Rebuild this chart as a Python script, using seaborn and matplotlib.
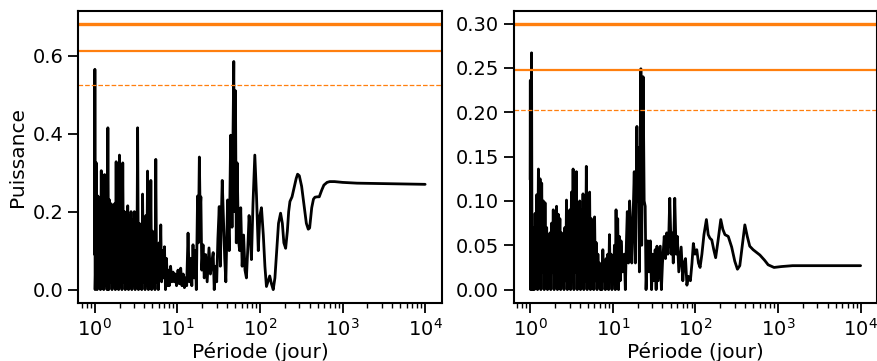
import matplotlib
matplotlib.use("Agg")
import matplotlib.pyplot as plt
from matplotlib.ticker import MultipleLocator
import seaborn as sns

# Periodogramme 1 (gauche)
periode_a = [1.000, 1.003, 1.006, 1.013, 1.023, 1.047, 1.072, 1.096, 1.122, 1.148,
             1.175, 1.202, 1.230, 1.259, 1.288, 1.318, 1.349, 1.380, 1.413, 1.445,
             1.479, 1.514, 1.549, 1.585, 1.622, 1.660, 1.698, 1.738, 1.778, 1.820,
             1.862, 1.905, 1.950, 1.995, 2.042, 2.089, 2.138, 2.188, 2.239, 2.291,
             2.344, 2.399, 2.455, 2.512, 2.570, 2.630, 2.692, 2.754, 2.818, 2.884,
             2.951, 3.020, 3.090, 3.162, 3.236, 3.311, 3.388, 3.467, 3.548, 3.631,
             3.715, 3.802, 3.890, 3.981, 4.074, 4.169, 4.266, 4.365, 4.467, 4.571,
             4.677, 4.786, 4.898, 5.012, 5.129, 5.248, 5.370, 5.495, 5.623, 5.754,
             5.888, 6.026, 6.166, 6.310, 6.457, 6.607,
             6.80, 7.00, 7.20, 7.40, 7.60, 7.80, 8.00, 8.30, 8.60, 8.90,
             9.20, 9.50, 9.80, 10.2, 10.6, 11.0, 11.4, 11.8, 12.2, 12.6,
             13.0, 13.5, 14.0, 14.5, 15.0, 15.5, 16.0, 16.5, 17.0, 17.6,
             18.0, 18.5, 18.9, 19.3, 19.8, 20.5, 21.2, 22.0, 23.0, 24.2,
             25.2, 26.2, 27.2, 28.0, 29.0, 30.0, 31.0, 32.2, 33.2, 34.0,
             35.0, 36.2, 37.5, 38.7, 40.7, 42.5, 44.3, 46.0, 48.3, 49.3,
             50.6, 51.8, 53.0, 55.0, 56.8, 58.6, 61.0, 63.5, 66.0, 68.7,
             71.5, 74.0, 76.5, 79.0, 82.5, 86.8, 91.0, 95.6, 100, 104.5,
             110, 115, 120, 125, 131.5, 138, 145, 152, 160, 168,
             178, 187, 195, 205, 215, 223, 231, 245, 262, 275,
             286, 300, 320, 345, 365, 385, 400, 424, 445, 464,
             495, 523, 560, 595, 650, 700, 800, 1000, 1500, 3000,
             6000, 10000]
puissance_a = [0.09, 0.24, 0.565, 0.00, 0.05, 0.325, 0.00, 0.24, 0.01, 0.20,
               0.00, 0.305, 0.02, 0.22, 0.00, 0.295, 0.01, 0.18, 0.00, 0.415,
               0.00, 0.23, 0.02, 0.22, 0.00, 0.21, 0.01, 0.22, 0.00, 0.328,
               0.02, 0.21, 0.00, 0.345, 0.01, 0.20, 0.00, 0.325, 0.02, 0.20,
               0.00, 0.19, 0.01, 0.215, 0.00, 0.19, 0.02, 0.20, 0.00, 0.18,
               0.01, 0.20, 0.00, 0.19, 0.02, 0.415, 0.00, 0.17, 0.01, 0.15,
               0.00, 0.245, 0.02, 0.14, 0.00, 0.19, 0.01, 0.304, 0.00, 0.16,
               0.02, 0.28, 0.00, 0.15, 0.01, 0.13, 0.00, 0.334, 0.02, 0.10,
               0.00, 0.12, 0.03, 0.166, 0.02, 0.10,
               0.03, 0.11, 0.00, 0.08, 0.01, 0.05, 0.01, 0.06, 0.02, 0.045,
               0.02, 0.04, 0.01, 0.05, 0.015, 0.055, 0.01, 0.04, 0.005, 0.03,
               0.01, 0.145, 0.02, 0.08, 0.01, 0.115, 0.03, 0.10, 0.00, 0.24,
               0.12, 0.34, 0.20, 0.238, 0.05, 0.115, 0.03, 0.09, 0.02, 0.107,
               0.04, 0.07, 0.095, 0.00, 0.06, 0.02, 0.13, 0.213, 0.06, 0.17,
               0.28, 0.18, 0.08, 0.02, 0.23, 0.10, 0.396, 0.16, 0.585, 0.20,
               0.51, 0.12, 0.325, 0.13, 0.10, 0.21, 0.06, 0.14, 0.05, 0.03,
               0.11, 0.19, 0.14, 0.077, 0.22, 0.345, 0.24, 0.10, 0.19, 0.21,
               0.14, 0.06, 0.008, 0.02, 0.035, 0.015, 0.00, 0.03, 0.10, 0.17,
               0.196, 0.17, 0.12, 0.106, 0.15, 0.20, 0.226, 0.238, 0.265, 0.285,
               0.296, 0.292, 0.265, 0.21, 0.17, 0.155, 0.158, 0.21, 0.232, 0.237,
               0.238, 0.238, 0.255, 0.268, 0.275, 0.277, 0.277, 0.275, 0.273, 0.272,
               0.271, 0.270]
seuils_a = [0.680, 0.612, 0.525]

# Periodogramme 2 (droite)
periode_b = [1.000, 1.005, 1.012, 1.030, 1.040, 1.055, 1.072, 1.096, 1.122, 1.148,
             1.175, 1.202, 1.230, 1.259, 1.288, 1.318, 1.349, 1.380, 1.413, 1.445,
             1.479, 1.514, 1.549, 1.585, 1.622, 1.660, 1.698, 1.738, 1.778, 1.820,
             1.862, 1.905, 1.950, 1.995, 2.042, 2.089, 2.138, 2.188, 2.239, 2.291,
             2.344, 2.399, 2.455, 2.512, 2.570, 2.630, 2.692, 2.754, 2.818, 2.884,
             2.951, 3.020, 3.090, 3.162, 3.236, 3.311, 3.388, 3.467, 3.548, 3.631,
             3.715, 3.802, 3.890, 3.981, 4.074, 4.169, 4.266, 4.365, 4.467, 4.571,
             4.677, 4.786, 4.898, 5.012, 5.129, 5.248, 5.370, 5.495, 5.623, 5.754,
             5.888, 6.026, 6.166, 6.310, 6.457, 6.607, 6.761, 6.918, 7.079, 7.244,
             7.413, 7.586, 7.762, 7.943, 8.128, 8.318, 8.511, 8.710, 8.913, 9.120,
             9.333, 9.550, 9.772, 10.00, 10.23, 10.47, 10.72, 10.96, 11.22, 11.48,
             11.75, 12.02, 12.30, 12.59,
             13.2, 13.8, 14.2, 14.6, 15.0, 15.5, 16.0, 16.5, 17.0, 17.6,
             18.2, 18.8, 19.6, 20.0, 20.5, 21.0, 21.9, 22.4, 23.3, 24.0,
             24.7, 25.3, 26.5, 27.5, 28.5, 29.5, 30.5, 31.5, 32.6, 33.5,
             34.3, 35.5, 37.6, 38.8, 40.0, 42.0, 43.5, 45.0, 46.5, 47.5,
             49.0, 51.0, 52.5, 54.0, 56.3, 58.5, 60.5, 63.0, 67.3, 70.5,
             73.0, 76.0, 79.0, 82.0, 87.0, 91.0, 94.5, 99.0, 104, 109,
             114, 120, 127, 136, 143, 150, 158, 167, 176, 188,
             203, 215, 228, 250, 275, 300, 323, 345, 370, 397,
             425, 455, 500, 550, 604, 690, 760, 895, 1100, 1500,
             3000, 10000]
puissance_b = [0.124, 0.236, 0.00, 0.20, 0.267, 0.00, 0.00, 0.07, 0.00, 0.086,
               0.01, 0.107, 0.00, 0.136, 0.01, 0.125, 0.00, 0.12, 0.02, 0.10,
               0.00, 0.098, 0.01, 0.07, 0.00, 0.05, 0.01, 0.064, 0.00, 0.075,
               0.02, 0.09, 0.00, 0.085, 0.01, 0.094, 0.00, 0.085, 0.02, 0.08,
               0.00, 0.064, 0.01, 0.04, 0.00, 0.07, 0.01, 0.101, 0.00, 0.088,
               0.02, 0.09, 0.00, 0.11, 0.01, 0.136, 0.00, 0.12, 0.02, 0.133,
               0.00, 0.08, 0.01, 0.10, 0.00, 0.09, 0.02, 0.108, 0.00, 0.08,
               0.01, 0.139, 0.00, 0.09, 0.02, 0.11, 0.00, 0.08, 0.01, 0.07,
               0.00, 0.082, 0.01, 0.053, 0.00, 0.04, 0.01, 0.03, 0.00, 0.02,
               0.00, 0.045, 0.01, 0.03, 0.00, 0.035, 0.01, 0.04, 0.00, 0.062,
               0.01, 0.04, 0.00, 0.03, 0.01, 0.05, 0.00, 0.09, 0.02, 0.08,
               0.00, 0.06, 0.01, 0.055,
               0.02, 0.04, 0.00, 0.05, 0.088, 0.03, 0.10, 0.07, 0.03, 0.08,
               0.133, 0.03, 0.184, 0.10, 0.16, 0.02, 0.249, 0.05, 0.24, 0.10,
               0.094, 0.00, 0.055, 0.02, 0.055, 0.00, 0.04, 0.01, 0.045, 0.00,
               0.049, 0.01, 0.049, 0.00, 0.03, 0.06, 0.035, 0.064, 0.04, 0.056,
               0.103, 0.04, 0.064, 0.03, 0.103, 0.04, 0.06, 0.02, 0.048, 0.01,
               0.03, 0.035, 0.005, 0.015, 0.01, 0.03, 0.052, 0.04, 0.045, 0.03,
               0.025, 0.04, 0.062, 0.079, 0.062, 0.058, 0.056, 0.045, 0.036, 0.055,
               0.079, 0.068, 0.062, 0.06, 0.048, 0.032, 0.023, 0.027, 0.05, 0.073,
               0.06, 0.049, 0.045, 0.042, 0.039, 0.033, 0.028, 0.025, 0.026, 0.027,
               0.027, 0.027]
seuils_b = [0.299, 0.248, 0.202]

sns.set_theme(style="ticks", rc={
    "axes.linewidth": 1.5,
    "axes.edgecolor": "black",
    "text.color": "black",
    "axes.labelcolor": "black",
    "xtick.color": "black",
    "ytick.color": "black",
    "xtick.major.size": 7, "ytick.major.size": 7,
    "xtick.minor.size": 3.5, "ytick.minor.size": 3.5,
    "xtick.major.width": 1.3, "ytick.major.width": 1.3,
    "xtick.minor.width": 1.0, "ytick.minor.width": 1.0,
    "xtick.labelsize": 14, "ytick.labelsize": 14,
    "axes.labelsize": 14.5,
})
plt.rcParams['font.family'] = ['DejaVu Sans']

fig, axes = plt.subplots(1, 2, figsize=(8.78, 3.61), dpi=100)
fig.subplots_adjust(left=0.089, right=0.999, bottom=0.161, top=0.969, wspace=0.198)

orange = "#ff7f0e"
panneaux = [(periode_a, puissance_a, seuils_a, 0.2),
            (periode_b, puissance_b, seuils_b, 0.05)]
for ax, (per, pui, seuils, pas) in zip(axes, panneaux):
    sns.lineplot(x=per, y=pui, ax=ax, color="black", lw=2.0,
                 sort=False, estimator=None)
    ax.axhline(seuils[0], color=orange, lw=2.4)
    ax.axhline(seuils[1], color=orange, lw=1.6)
    ax.axhline(seuils[2], color=orange, lw=0.9, ls="--")
    ax.set_xscale("log")
    ax.yaxis.set_major_locator(MultipleLocator(pas))
    ax.set_xlabel("Période (jour)", labelpad=2)

axes[0].set_ylabel("Puissance")
axes[1].set_ylabel("")

plt.savefig("out.png", dpi=100)
